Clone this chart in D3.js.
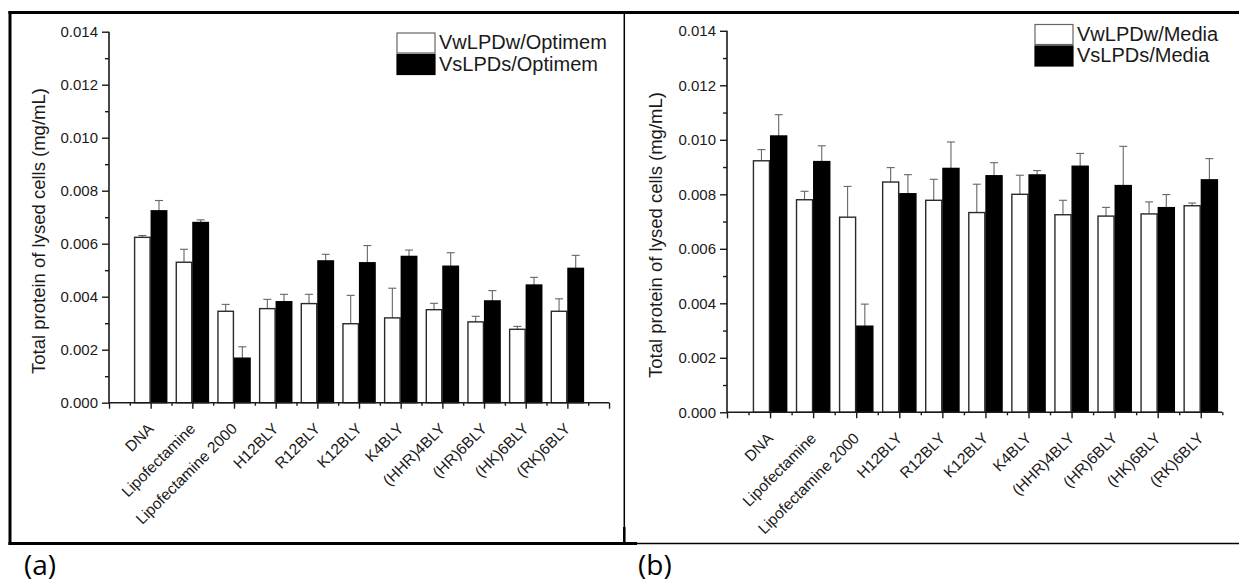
<!DOCTYPE html>
<html>
<head>
<meta charset="utf-8">
<script src="https://cdn.jsdelivr.net/npm/d3@7"></script>
<style>
  body { margin: 0; background: #fff; }
  svg { display: block; font-family: "Liberation Sans", Arial, sans-serif; }
</style>
</head>
<body>
<svg id="fig" width="1239" height="583"></svg>
<script>
// Formulations tested (x-axis categories, same for both panels)
const categories = ["DNA", "Lipofectamine", "Lipofectamine 2000", "H12BLY", "R12BLY",
  "K12BLY", "K4BLY", "(HHR)4BLY", "(HR)6BLY", "(HK)6BLY", "(RK)6BLY"];

// Y-axis tick values (mg/mL)
const yTicks = [0, 0.002, 0.004, 0.006, 0.008, 0.010, 0.012, 0.014];

// Panel (a): Optimem
const optimemWeak   = [0.00624, 0.00530, 0.00345, 0.00355, 0.00374, 0.00298, 0.00320, 0.00351, 0.00305, 0.00277, 0.00345];
const optimemWeakSD = [0.00007, 0.00049, 0.00026, 0.00035, 0.00035, 0.00107, 0.00112, 0.00024, 0.00021, 0.00011, 0.00047];
const optimemStrong   = [0.00724, 0.00680, 0.00168, 0.00381, 0.00535, 0.00528, 0.00552, 0.00515, 0.00384, 0.00444, 0.00507];
const optimemStrongSD = [0.00039, 0.00010, 0.00043, 0.00028, 0.00025, 0.00065, 0.00024, 0.00051, 0.00039, 0.00029, 0.00049];

// Panel (b): Media
const mediaWeak   = [0.00923, 0.00780, 0.00716, 0.00845, 0.00778, 0.00733, 0.00800, 0.00725, 0.00720, 0.00728, 0.00758];
const mediaWeakSD = [0.00041, 0.00031, 0.00113, 0.00053, 0.00077, 0.00104, 0.00070, 0.00053, 0.00032, 0.00044, 0.00010];
const mediaStrong   = [0.01014, 0.00920, 0.00316, 0.00802, 0.00895, 0.00868, 0.00871, 0.00903, 0.00832, 0.00751, 0.00853];
const mediaStrongSD = [0.00078, 0.00058, 0.00081, 0.00070, 0.00097, 0.00048, 0.00016, 0.00047, 0.00144, 0.00048, 0.00078];

const legendA = ["VwLPDw/Optimem", "VsLPDs/Optimem"];
const legendB = ["VwLPDw/Media", "VsLPDs/Media"];
const yTitle = "Total protein of lysed cells (mg/mL)";

const svg = d3.select("#fig");
const ink = "#1a1a1a";

// Outer figure frame
const frame = svg.append("g").attr("fill", "none").attr("stroke", "#000");
frame.append("line").attr("x1", 8.5).attr("x2", 1239).attr("y1", 12.5).attr("y2", 12.5).attr("stroke-width", 3);
frame.append("line").attr("x1", 10).attr("x2", 10).attr("y1", 11).attr("y2", 545).attr("stroke-width", 3);
frame.append("line").attr("x1", 8.5).attr("x2", 637).attr("y1", 543.5).attr("y2", 543.5).attr("stroke-width", 3);
frame.append("line").attr("x1", 637).attr("x2", 1239).attr("y1", 543.5).attr("y2", 543.5).attr("stroke-width", 1.5);
frame.append("line").attr("x1", 624.3).attr("x2", 624.3).attr("y1", 12).attr("y2", 543).attr("stroke-width", 1.5);
frame.append("line").attr("x1", 624.3).attr("x2", 624.3).attr("y1", 527).attr("y2", 543).attr("stroke-width", 2.5);

function drawPanel(cfg) {
  const g = svg.append("g");
  const x = d3.scaleLinear().domain([0, cfg.xMax]).range([cfg.left, cfg.left + cfg.unit * cfg.xMax]);
  const y = d3.scaleLinear().domain([0, 0.014]).range([cfg.bottom, cfg.top]);
  const barW = x(0.4) - x(0);

  // Bars: weak (white) left of the category position, strong (black) right of it
  const series = [
    { vals: cfg.weak, sd: cfg.weakSD, off: -0.4, fill: "#fff", stroke: "#2a2a2a" },
    { vals: cfg.strong, sd: cfg.strongSD, off: 0, fill: "#000", stroke: "#000" }
  ];
  series.forEach(s => {
    const rows = categories.map((c, i) => ({ i, v: s.vals[i], sd: s.sd[i] }));
    // error bars (upper half only) drawn behind bars
    const eb = g.append("g").attr("stroke", "#666").attr("stroke-width", 1.1);
    eb.selectAll("line.v").data(rows).join("line")
      .attr("x1", d => x(d.i + 1 + s.off + 0.2)).attr("x2", d => x(d.i + 1 + s.off + 0.2))
      .attr("y1", d => y(d.v)).attr("y2", d => y(d.v + d.sd));
    eb.selectAll("line.c").data(rows).join("line")
      .attr("x1", d => x(d.i + 1 + s.off + 0.2) - 4).attr("x2", d => x(d.i + 1 + s.off + 0.2) + 4)
      .attr("y1", d => y(d.v + d.sd)).attr("y2", d => y(d.v + d.sd));
    g.append("g").selectAll("rect").data(rows).join("rect")
      .attr("x", d => x(d.i + 1 + s.off) + 0.6)
      .attr("y", d => y(d.v))
      .attr("width", barW - 1.2)
      .attr("height", d => y(0) - y(d.v))
      .attr("fill", s.fill).attr("stroke", s.stroke).attr("stroke-width", 1.4);
  });

  // Y axis: major ticks with labels, minor ticks between
  const yMajor = d3.axisLeft(y).tickValues(yTicks).tickSize(7).tickPadding(4).tickFormat(d3.format(".3f"));
  const yMinor = d3.axisLeft(y).tickValues(yTicks.slice(0, -1).map(t => t + 0.001)).tickSize(4).tickFormat("");
  const ya = g.append("g").attr("transform", `translate(${cfg.left},0)`).call(yMajor);
  g.append("g").attr("transform", `translate(${cfg.left},0)`).call(yMinor).select(".domain").remove();
  ya.select(".domain").attr("d", `M0,${cfg.bottom}V${cfg.top}`);

  // X axis: major ticks at category positions, minor ticks halfway
  const xMajor = d3.axisBottom(x).tickValues(d3.range(0, cfg.xMax + 0.01, 1)).tickSize(6).tickFormat("");
  const xMinor = d3.axisBottom(x).tickValues(d3.range(0.5, cfg.xMax + 0.01, 1)).tickSize(3).tickFormat("");
  const xa = g.append("g").attr("transform", `translate(0,${cfg.bottom})`).call(xMajor);
  g.append("g").attr("transform", `translate(0,${cfg.bottom})`).call(xMinor).select(".domain").remove();
  xa.select(".domain").attr("d", `M${x(0)},0H${x(cfg.xMax)}`);

  g.selectAll(".domain").attr("stroke", ink).attr("stroke-width", 1.6);
  g.selectAll(".tick line").attr("stroke", ink).attr("stroke-width", 1.4);
  g.selectAll(".tick text").attr("font-size", 15).attr("fill", ink)
    .attr("font-family", '"Liberation Sans", Arial, sans-serif');

  // Rotated category labels
  g.append("g").selectAll("text").data(categories).join("text")
    .attr("transform", (d, i) => `translate(${x(i + 1) + 4},${cfg.bottom + 27}) rotate(-45)`)
    .attr("text-anchor", "end")
    .attr("font-size", 15.5).attr("fill", ink)
    .text(d => d);

  // Y-axis title
  g.append("text")
    .attr("transform", `translate(${cfg.titleX},${cfg.titleY}) rotate(-90)`)
    .attr("text-anchor", "middle")
    .attr("font-size", 18.5).attr("fill", ink)
    .text(yTitle);

  // Legend
  const lg = g.append("g");
  cfg.legend.forEach((name, k) => {
    lg.append("rect")
      .attr("x", cfg.legX).attr("y", cfg.legY + k * 21.5)
      .attr("width", 38).attr("height", 20)
      .attr("fill", k === 0 ? "#fff" : "#000")
      .attr("stroke", k === 0 ? "#666" : "#000").attr("stroke-width", 1.2);
    lg.append("text")
      .attr("x", cfg.legX + 42).attr("y", cfg.legY + 16 + k * 21.5)
      .attr("font-size", 20).attr("fill", ink)
      .text(name);
  });

  // Panel letter
  svg.append("text")
    .attr("x", cfg.panelX).attr("y", 575)
    .attr("font-family", '"Open Sans", "Noto Sans", sans-serif')
    .attr("font-size", 28).attr("fill", "#000")
    .text(cfg.panel);
}

drawPanel({
  left: 109, unit: 41.67, xMax: 12, top: 31.7, bottom: 402.7,
  weak: optimemWeak, weakSD: optimemWeakSD, strong: optimemStrong, strongSD: optimemStrongSD,
  legend: legendA, legX: 397, legY: 33,
  titleX: 45, titleY: 231, panel: "(a)", panelX: 24
});

drawPanel({
  left: 727, unit: 43.07, xMax: 11.5, top: 30.8, bottom: 412.3,
  weak: mediaWeak, weakSD: mediaWeakSD, strong: mediaStrong, strongSD: mediaStrongSD,
  legend: legendB, legX: 1035, legY: 24.5,
  titleX: 662, titleY: 235, panel: "(b)", panelX: 638
});
</script>
</body>
</html>
